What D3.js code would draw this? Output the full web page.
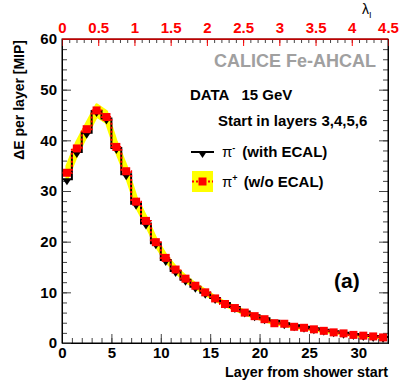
<!DOCTYPE html>
<html>
<head>
<meta charset="utf-8">
<script src="https://cdn.jsdelivr.net/npm/d3@7"></script>
<style>
  body { margin: 0; background: #fff; }
  svg { font-family: "Liberation Sans", Arial, sans-serif; }
  .lbl { font-weight: bold; }
</style>
</head>
<body>
<script>
    // layers (bin lower edges) and mean energy per layer
    const layers = d3.range(0, 33);
    const piMinus = [32.3, 37.7, 41.5, 45.8, 44.3, 38.5, 33.3, 27.5, 23.6, 19.7, 16.4, 14.2, 12.5, 11.1, 9.9, 8.9,
                     7.9, 7.1, 6.2, 5.5, 4.9, 4.4, 3.9, 3.5, 3.2, 2.9, 2.6, 2.3, 2.0, 1.8, 1.6, 1.4, 1.2];
    const piPlus = [33.6, 38.4, 42.2, 45.9, 44.6, 38.7, 33.9, 27.9, 24.1, 19.9, 16.8, 14.5, 12.7, 11.3, 10.0, 8.8,
                    7.7, 6.9, 6.0, 5.3, 4.7, 3.9, 3.8, 3.2, 3.0, 2.7, 2.4, 2.1, 1.9, 1.6, 1.45, 1.3, 1.1];
    const piPlusSys = [1.3, 1.3, 1.2, 1.1, 1.1, 1.0, 1.0, 0.9, 0.8, 0.7, 0.6, 0.5, 0.5, 0.4, 0.4, 0.35,
                       0.3, 0.3, 0.3, 0.25, 0.25, 0.2, 0.2, 0.2, 0.15, 0.15, 0.15, 0.1, 0.1, 0.1, 0.1, 0.1, 0.1];
    const xTicks = [0, 5, 10, 15, 20, 25, 30];
    const yTicks = [0, 10, 20, 30, 40, 50, 60];
    const lambdaTicks = [0, 0.5, 1, 1.5, 2, 2.5, 3, 3.5, 4, 4.5];

    const W = 409, H = 392;
    const margin = {left: 62, top: 39, right: 21, bottom: 49},
        width = W - margin.left - margin.right,
        height = H - margin.top - margin.bottom;

    const svg = d3.select('body').append('svg')
        .attr('width', W)
        .attr('height', H);
    const g = svg.append('g')
        .attr('transform', `translate(${margin.left}, ${margin.top})`);

    const xScale = d3.scaleLinear().domain([0, 33]).range([0, width]);
    const lScale = d3.scaleLinear().domain([0, 4.5]).range([0, width]);
    const yScale = d3.scaleLinear().domain([0, 60]).range([height, 0]);

    // minor ticks first
    g.append('g').attr('transform', `translate(0, ${height})`)
        .call(d3.axisBottom(xScale).tickValues(d3.range(0, 34)).tickSize(-5).tickFormat(''))
        .call(a => a.selectAll('line').attr('stroke', '#444'));
    g.append('g')
        .call(d3.axisLeft(yScale).tickValues(d3.range(0, 61, 2)).tickSize(-5).tickFormat(''))
        .call(a => a.selectAll('line').attr('stroke', '#444'));
    g.append('g').attr('transform', `translate(${width}, 0)`)
        .call(d3.axisRight(yScale).tickValues(d3.range(0, 61, 2)).tickSize(-5).tickFormat(''))
        .call(a => a.selectAll('line').attr('stroke', '#444'));
    g.append('g')
        .call(d3.axisTop(lScale).tickValues(d3.range(0, 45).map(i => i / 10)).tickSize(-4).tickFormat(''))
        .call(a => a.selectAll('line').attr('stroke', '#f00'));

    // major axes
    const xAxisG = g.append('g').attr('transform', `translate(0, ${height})`)
        .call(d3.axisBottom(xScale).tickValues(xTicks).tickSize(-9).tickPadding(4).tickSizeOuter(0));
    const yAxisG = g.append('g')
        .call(d3.axisLeft(yScale).tickValues(yTicks).tickSize(-9).tickPadding(5).tickSizeOuter(0));
    g.append('g').attr('transform', `translate(${width}, 0)`)
        .call(d3.axisRight(yScale).tickValues(yTicks).tickSize(-9).tickFormat('').tickSizeOuter(0));
    const topAxisG = g.append('g')
        .call(d3.axisTop(lScale).tickValues(lambdaTicks).tickSize(-7).tickPadding(6).tickSizeOuter(0).tickFormat(d3.format('')));

    g.selectAll('.tick line').attr('stroke', '#444');
    topAxisG.selectAll('line').attr('stroke', '#f00');
    topAxisG.select('.domain').attr('stroke', '#f00');
    topAxisG.selectAll('text').attr('fill', '#f00');
    g.selectAll('.tick text').attr('class', 'lbl').attr('font-size', 15);
    g.selectAll('.domain').attr('stroke-width', 1);
    yAxisG.selectAll('text').attr('text-anchor', 'end');

    // systematic band for pi+
    const band = d3.area()
        .x((d, i) => xScale(layers[i] + 0.5))
        .y0((d, i) => yScale(d - piPlusSys[i]))
        .y1((d, i) => yScale(d + piPlusSys[i]));
    g.append('path')
        .datum(piPlus)
        .attr('d', band)
        .attr('fill', '#ffff00')
        .attr('stroke', '#ffff00')
        .attr('stroke-width', 3)
        .attr('stroke-linejoin', 'round');

    // step outline
    function steps(vals) {
        const pts = [];
        vals.forEach((v, i) => { pts.push([xScale(layers[i]), yScale(v)]); pts.push([xScale(layers[i] + 1), yScale(v)]); });
        return pts;
    }
    const stepLine = d3.line();

    g.append('path')
        .attr('d', stepLine(steps(piMinus)))
        .attr('fill', 'none')
        .attr('stroke', '#000')
        .attr('stroke-width', 2);

    g.selectAll('.tri')
        .data(piMinus)
        .enter()
        .append('path')
            .attr('class', 'tri')
            .attr('transform', (d, i) => `translate(${xScale(layers[i] + 0.5)}, ${yScale(d)})`)
            .attr('d', 'M-4,0 L4,0 L0,6 Z')
            .attr('fill', '#000');

    g.append('path')
        .attr('d', stepLine(steps(piPlus)))
        .attr('fill', 'none')
        .attr('stroke', '#f00')
        .attr('stroke-width', 2)
        .attr('stroke-dasharray', '2,2');

    g.selectAll('.sq')
        .data(piPlus)
        .enter()
        .append('rect')
            .attr('class', 'sq')
            .attr('x', (d, i) => xScale(layers[i] + 0.5) - 4)
            .attr('y', d => yScale(d) - 4)
            .attr('width', 8)
            .attr('height', 8)
            .attr('fill', '#f00');

    // frame redraw on top
    g.append('rect')
        .attr('width', width).attr('height', height)
        .attr('fill', 'none').attr('stroke', '#000').attr('stroke-width', 1);
    g.append('line').attr('x1', 0).attr('x2', width).attr('y1', 0).attr('y2', 0)
        .attr('stroke', '#f00');

    // titles
    svg.append('text')
        .attr('class', 'lbl')
        .attr('transform', 'translate(24, 40) rotate(-90)')
        .attr('text-anchor', 'end')
        .attr('font-size', 14)
        .text('\u0394E per layer [MIP]');

    svg.append('text')
        .attr('class', 'lbl')
        .attr('x', 388).attr('y', 377)
        .attr('text-anchor', 'end')
        .attr('font-size', 14.3)
        .text('Layer from shower start');

    const lam = svg.append('text').attr('x', 362).attr('y', 14).attr('font-size', 14);
    lam.append('tspan').text('\u03bb');
    lam.append('tspan').attr('dy', 4).attr('font-size', 9).text('I');

    svg.append('text')
        .attr('class', 'lbl')
        .attr('x', 376).attr('y', 67)
        .attr('text-anchor', 'end')
        .attr('font-size', 18)
        .attr('fill', '#a0a0a0')
        .text('CALICE Fe-AHCAL');

    svg.append('text')
        .attr('class', 'lbl')
        .attr('x', 190).attr('y', 100)
        .attr('font-size', 15)
        .attr('xml:space', 'preserve')
        .text('DATA   15 GeV');

    svg.append('text')
        .attr('class', 'lbl')
        .attr('x', 218).attr('y', 126)
        .attr('font-size', 15)
        .text('Start in layers 3,4,5,6');

    // legend
    svg.append('line')
        .attr('x1', 191).attr('x2', 214).attr('y1', 152).attr('y2', 152)
        .attr('stroke', '#000').attr('stroke-width', 2);
    svg.append('path')
        .attr('transform', 'translate(202.5, 152)')
        .attr('d', 'M-4,0 L4,0 L0,6 Z');
    const t1 = svg.append('text').attr('class', 'lbl').attr('x', 222).attr('y', 157).attr('font-size', 15);
    t1.append('tspan').attr('font-weight', 'normal').text('\u03c0');
    t1.append('tspan').attr('dy', -6).attr('font-size', 9).text('-');
    t1.append('tspan').attr('dy', 6).attr('dx', 7).text('(with ECAL)');

    svg.append('rect')
        .attr('x', 192).attr('y', 171).attr('width', 21).attr('height', 21)
        .attr('fill', '#ffff00');
    svg.append('line')
        .attr('x1', 192).attr('x2', 213).attr('y1', 181.5).attr('y2', 181.5)
        .attr('stroke', '#f00').attr('stroke-width', 2).attr('stroke-dasharray', '2,2');
    svg.append('rect')
        .attr('x', 198.5).attr('y', 177.5).attr('width', 8).attr('height', 8)
        .attr('fill', '#f00');
    const t2 = svg.append('text').attr('class', 'lbl').attr('x', 222).attr('y', 187).attr('font-size', 15);
    t2.append('tspan').attr('font-weight', 'normal').text('\u03c0');
    t2.append('tspan').attr('dy', -6).attr('font-size', 9).text('+');
    t2.append('tspan').attr('dy', 6).attr('dx', 6).text('(w/o ECAL)');

    svg.append('text')
        .attr('class', 'lbl')
        .attr('x', 334).attr('y', 288)
        .attr('font-size', 21)
        .text('(a)');
</script>
</body>
</html>
